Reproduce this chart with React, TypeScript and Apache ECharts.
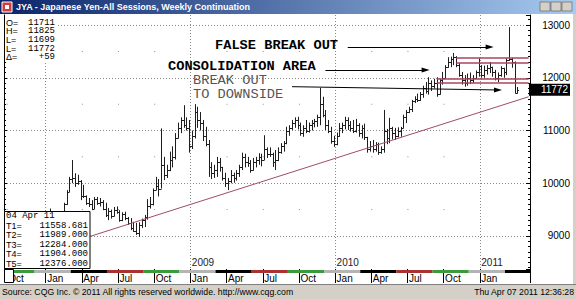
import React, { useEffect, useRef } from 'react';
import * as echarts from 'echarts';

// ---------- categories ----------
const START_WEEK_UTC = Date.UTC(2007, 8, 24); // Monday 24 Sep 2007
const WEEK_COUNT = 189;
const LAST_LABELLED_WEEK = 180;
const FIRST_YEAR_LABEL_WEEK = 30;
const MONTHS = ['Jan', 'Feb', 'Mar', 'Apr', 'May', 'Jun', 'Jul', 'Aug', 'Sep', 'Oct', 'Nov', 'Dec'];

// ---------- weekly bars [open, high, low, close] ----------
const bars2007 = [
  [8700, 8780, 8640, 8720], [8720, 8730, 8560, 8600], [8600, 8640, 8520, 8560], [8560, 8800, 8550, 8770],
  [8770, 8820, 8660, 8740], [8740, 8780, 8620, 8720], [8720, 9040, 8700, 8990], [8990, 9120, 8940, 9080],
  [9080, 9280, 9050, 9230], [9230, 9250, 8950, 9020], [9020, 9080, 8890, 8960], [8960, 9020, 8830, 8860],
  [8860, 8900, 8770, 8820], [8820, 8960, 8790, 8950], [8950, 9220, 8920, 9180],
];
const bars2008 = [
  [9180, 9300, 9100, 9250], [9250, 9520, 9240, 9400], [9400, 9460, 9250, 9300], [9300, 9440, 9280, 9400],
  [9400, 9440, 9240, 9300], [9300, 9470, 9290, 9450], [9450, 9630, 9450, 9600], [9600, 9870, 9590, 9840],
  [9840, 10120, 9830, 10080], [10080, 10440, 10000, 10100], [10100, 10190, 9930, 10000], [10000, 10160, 9970, 10050],
  [10050, 10060, 9680, 9750], [9750, 9970, 9720, 9760], [9760, 9770, 9590, 9620], [9620, 9720, 9550, 9600],
  [9600, 9680, 9490, 9520], [9520, 9740, 9510, 9700], [9700, 9740, 9590, 9620], [9620, 9720, 9560, 9650],
  [9650, 9680, 9490, 9520], [9520, 9630, 9360, 9400], [9400, 9530, 9300, 9480], [9480, 9500, 9330, 9380],
  [9380, 9550, 9370, 9500], [9500, 9560, 9420, 9450], [9450, 9490, 9270, 9300], [9300, 9450, 9280, 9420],
  [9420, 9460, 9300, 9350], [9350, 9360, 9210, 9240], [9240, 9340, 9110, 9150], [9150, 9270, 9080, 9100],
  [9100, 9250, 9020, 9050], [9050, 9260, 8980, 9200], [9200, 9330, 9150, 9300], [9300, 9400, 9170, 9360],
  [9360, 9700, 9310, 9560], [9560, 9740, 9520, 9600], [9600, 9900, 9580, 9880], [9880, 10120, 9870, 9950],
  [9950, 10080, 9750, 9900], [9900, 11040, 9900, 10350], [10350, 10500, 10060, 10150], [10150, 10350, 10100, 10250],
  [10250, 10600, 10230, 10450], [10450, 10700, 10300, 10500], [10500, 10950, 10450, 10850], [10850, 11150, 10850, 11050],
  [11050, 11250, 10950, 11200], [11200, 11480, 11050, 11100], [11100, 11250, 11000, 11050], [11050, 11200, 10580, 10700],
];
const bars2009 = [
  [10700, 11000, 10650, 10900], [10900, 11500, 10850, 11350], [11350, 11450, 11050, 11200], [11200, 11350, 11000, 11150],
  [11150, 11200, 10800, 10900], [10900, 11070, 10700, 10750], [10750, 10820, 10120, 10300], [10300, 10400, 10080, 10200],
  [10200, 10350, 10100, 10250], [10250, 10500, 10120, 10400], [10400, 10480, 10220, 10300], [10300, 10310, 10050, 10100],
  [10100, 10200, 9930, 10000], [10000, 10100, 9870, 10050], [10050, 10250, 10000, 10150], [10150, 10200, 10010, 10100],
  [10100, 10250, 10050, 10200], [10200, 10350, 10120, 10300], [10300, 10580, 10250, 10500], [10500, 10560, 10300, 10400],
  [10400, 10500, 10310, 10380], [10380, 10440, 10200, 10250], [10250, 10480, 10240, 10400], [10400, 10500, 10300, 10450],
  [10450, 10570, 10350, 10500], [10500, 10560, 10320, 10450], [10450, 10910, 10440, 10650], [10650, 10680, 10480, 10550],
  [10550, 10680, 10500, 10560], [10560, 10580, 10310, 10400], [10400, 10630, 10250, 10450], [10450, 10680, 10420, 10600],
  [10600, 10760, 10560, 10700], [10700, 10800, 10600, 10760], [10760, 11070, 10740, 11000], [11000, 11100, 10900, 11050],
  [11050, 11200, 11010, 11150], [11150, 11250, 11050, 11200], [11200, 11260, 11020, 11100], [11100, 11150, 10900, 10950],
  [10950, 11100, 10880, 11050], [11050, 11200, 10950, 11000], [11000, 11150, 10960, 11100], [11100, 11200, 11000, 11150],
  [11150, 11220, 11060, 11180], [11180, 11300, 11070, 11250], [11250, 11810, 11100, 11500], [11500, 11640, 11250, 11300],
  [11300, 11390, 11010, 11100], [11100, 11200, 10950, 11000], [11000, 11070, 10750, 10800], [10800, 10900, 10690, 10750],
];
const bars2010 = [
  [10750, 10960, 10720, 10900], [10900, 11140, 10880, 11050], [11050, 11150, 10950, 11100], [11100, 11260, 11020, 11200],
  [11200, 11250, 11010, 11100], [11100, 11180, 10980, 11050], [11050, 11200, 10950, 11000], [11000, 11220, 10960, 11100],
  [11100, 11140, 10880, 10950], [10950, 11100, 10850, 11050], [11050, 11130, 10820, 10870], [10870, 10880, 10580, 10650],
  [10650, 10800, 10600, 10700], [10700, 10820, 10580, 10650], [10650, 10780, 10600, 10750], [10750, 10770, 10540, 10600],
  [10600, 10700, 10560, 10650], [10650, 11390, 10580, 11000], [11000, 11030, 10740, 10850], [10850, 11240, 10760, 11050],
  [11050, 11070, 10830, 10950], [10950, 11050, 10820, 10900], [10900, 11060, 10870, 11000], [11000, 11070, 10880, 11050],
  [11050, 11300, 11040, 11250], [11250, 11390, 11140, 11350], [11350, 11450, 11330, 11400], [11400, 11580, 11350, 11550],
  [11550, 11650, 11520, 11600], [11600, 11700, 11540, 11580], [11580, 11730, 11560, 11700], [11700, 11850, 11620, 11800],
  [11800, 11920, 11700, 11750], [11750, 12010, 11680, 11900], [11900, 11950, 11750, 11850], [11850, 11980, 11800, 11900],
  [11900, 12010, 11640, 11700], [11700, 11980, 11680, 11950], [11950, 12110, 11870, 12000], [12000, 12240, 11990, 12200],
  [12200, 12390, 12190, 12300], [12300, 12400, 12200, 12350], [12350, 12470, 12240, 12400], [12400, 12410, 12200, 12250],
  [12250, 12280, 12020, 12050], [12050, 12110, 11870, 11950], [11950, 12050, 11830, 11900], [11900, 12080, 11850, 12000],
  [12000, 12100, 11880, 11950], [11950, 12050, 11900, 11990], [11990, 12140, 11980, 12100], [12100, 12370, 12020, 12220],
];
const bars2011 = [
  [12220, 12240, 12000, 12050], [12050, 12230, 12000, 12150], [12150, 12240, 12060, 12180], [12180, 12300, 12090, 12200],
  [12200, 12210, 12020, 12100], [12100, 12150, 11950, 12000], [12000, 12100, 11920, 12050], [12050, 12220, 12020, 12180],
  [12180, 12190, 12000, 12100], [12100, 12370, 12050, 12330], [12330, 12960, 12320, 12360], [12360, 12380, 12190, 12300],
  [12300, 12310, 11700, 11713], [11711, 11825, 11699, 11772],
];

// ---------- axis / annotation values ----------
const Y_MIN = 8374;
const Y_MAX = 13190;
const LAST_CLOSE = 11772;
const infoLabels = ['O=', 'H=', 'L=', 'L=', '\u0394='];
const infoValues = ['11711', '11825', '11699', '11772', '+59'];
const studyDate = '04 Apr 11';
const studyLabels = ['T1=', 'T2=', 'T3=', 'T4=', 'T5='];
const studyValues = ['11558.681', '11989.000', '12284.000', '11904.000', '12376.000'];
const trendLine = [[30, 8985], [188, 11640]];
const consolidationLines = [[162, 12376], [162, 12284], [155, 11989], [155, 11904]];
const falseBreakArrow = [[123, 12583], [174, 12583]];
const consolidationArrow = [[115, 12147], [151, 12147]];
const breakoutArrow = [[103, 11831], [177, 11768]];
const contractRolls = [11, 24, 37, 50, 63, 76, 89, 102, 115, 128, 141, 154, 167, 180];
const contractColors = ['#3c9a3c', '#b4b4b4', '#000000', '#a83232']; // Z, H, M, U
const halfLevels = [9500, 10500, 11500, 12500];

const weeks: string[] = [];
for (let i = 0; i < WEEK_COUNT; i++) {
  weeks.push(new Date(START_WEEK_UTC + i * 7 * 86400000).toISOString().slice(0, 10));
}
const monthOf = (s: string) => +s.slice(5, 7) - 1;
const dayOf = (s: string) => +s.slice(8, 10);
const isQuarterStart = (i: number, s: string) => i <= LAST_LABELLED_WEEK && monthOf(s) % 3 === 0 && dayOf(s) <= 7;
const isYearStart = (_i: number, s: string) => monthOf(s) === 0 && dayOf(s) <= 7;
const isYearLabel = (i: number, s: string) => i >= FIRST_YEAR_LABEL_WEEK && isYearStart(i, s);

const allBars = [...bars2007, ...bars2008, ...bars2009, ...bars2010, ...bars2011];
const ohlcData = allBars.map((b, i) => [i, b[0], b[1], b[2], b[3]]);

const segStarts = [0, ...contractRolls];
const segData = segStarts.map((s, i) => [s, i < contractRolls.length ? contractRolls[i] : WEEK_COUNT, i % 4, Y_MIN]);

const dotData: number[][] = [];
weeks.forEach((w, i) => {
  if (isQuarterStart(i, w) && !isYearStart(i, w)) halfLevels.forEach((lv) => dotData.push([i, lv]));
});

const mono = 'Liberation Mono';
const sans = 'Liberation Sans';

function buildOption(): any {
  const lineItem = (pts: number[][], color: string, width: number, arrow: boolean) => [
    { coord: pts[0], symbol: 'none', lineStyle: { color, width, type: 'solid' } },
    { coord: pts[1], symbol: arrow ? 'triangle' : 'none', symbolSize: [5, 8], itemStyle: { color } },
  ];
  const maroon = '#a8445e';
  const markData = [
    lineItem(trendLine, '#a04c66', 1, false),
    ...consolidationLines.map(([k, v]) => lineItem([[k, v], [WEEK_COUNT - 1, v]], maroon, 1.6, false)),
    lineItem(falseBreakArrow, '#000', 1, true),
    lineItem(consolidationArrow, '#000', 1, true),
    lineItem(breakoutArrow, '#000', 1, true),
  ];

  const txt = (x: number, y: number, text: string, font: string, fill = '#000', align = 'left') => ({
    type: 'text', z: 60, silent: true,
    style: { x, y, text, font, fill, textAlign: align, textVerticalAlign: 'middle' },
  });
  // annotation text, stretched horizontally to the wide letter pitch of the original
  const note = (x: number, y: number, text: string, font: string, fill = '#000') => ({
    type: 'text', z: 60, silent: true, x, y, scaleX: 1.14, scaleY: 1,
    style: { x: 0, y: 0, text, font, fill, textAlign: 'left', textVerticalAlign: 'middle' },
  });

  const graphics: any[] = [
    // title bar
    { type: 'rect', z: 50, shape: { x: 0, y: 0, width: 576, height: 14 },
      style: { fill: new echarts.graphic.LinearGradient(0, 0, 1, 0, [{ offset: 0, color: '#0a246a' }, { offset: 1, color: '#a6caf0' }]) } },
    { type: 'rect', z: 51, shape: { x: 2, y: 2, width: 10, height: 10 }, style: { fill: '#d23c3c', stroke: '#ffffff', lineWidth: 1 } },
    { type: 'rect', z: 52, shape: { x: 5, y: 5, width: 4, height: 4 }, style: { fill: '#ffffff' } },
    txt(16, 7, 'JYA - Japanese Yen-All Sessions, Weekly Continuation', `bold 9px ${sans}`, '#ffffff'),
    ...[540, 551, 562].map((x) => ({ type: 'rect', z: 51, shape: { x, y: 2, width: 10, height: 9 },
      style: { fill: '#d4d0c8', stroke: '#404040', lineWidth: 0.5 } })),
    // right window border
    { type: 'rect', z: 50, shape: { x: 573, y: 14, width: 3, height: 271 }, style: { fill: '#d4d0c8' } },
    // footer
    { type: 'rect', z: 50, shape: { x: 0, y: 284, width: 576, height: 15 }, style: { fill: '#d4d0c8' } },
    { type: 'line', z: 51, shape: { x1: 0, y1: 284.5, x2: 576, y2: 284.5 }, style: { stroke: '#808080', lineWidth: 1 } },
    txt(2, 292, 'Source: CQG Inc. \u00a9 2011 All rights reserved worldwide. http://www.cqg.com', `8.7px ${sans}`),
    txt(574, 292, 'Thu Apr 07 2011 12:36:28', `8.7px ${sans}`, '#000', 'right'),
    // top-left info
    { type: 'rect', z: 50, shape: { x: 5, y: 15, width: 53, height: 47 }, style: { fill: '#ffffff' } },
    ...infoLabels.map((l, i) => txt(6, 22.5 + i * 8.7, l, `9px ${sans}`)),
    ...infoValues.map((v, i) => txt(55, 22.5 + i * 8.7, v, `9px ${mono}`, '#000', 'right')),
    // bottom-left study box
    { type: 'rect', z: 50, shape: { x: 4.5, y: 211.5, width: 85.5, height: 57 }, style: { fill: '#ffffff', stroke: '#000', lineWidth: 1 } },
    txt(6, 216, studyDate, `9px ${mono}`),
    ...studyLabels.map((l, i) => txt(6, 225.5 + i * 9.55, l, `9px ${sans}`)),
    ...studyValues.map((v, i) => txt(88, 225.5 + i * 9.55, v, `9px ${mono}`, '#000', 'right')),
    // small corner box
    { type: 'rect', z: 50, shape: { x: 4.5, y: 269.5, width: 9, height: 13 }, style: { fill: '#ffffff', stroke: '#000', lineWidth: 1 } },
    // annotations
    note(215, 46, 'FALSE BREAK OUT', `bold 12px ${mono}`),
    note(168, 66.7, 'CONSOLIDATION AREA', `bold 12px ${mono}`),
    note(193, 80.6, 'BREAK OUT', `12px ${mono}`, '#555'),
    note(193, 94.5, 'TO DOWNSIDE', `12px ${mono}`, '#555'),
  ];

  const yBase = {
    type: 'value', min: Y_MIN, max: Y_MAX, minInterval: 1000, maxInterval: 1000, splitNumber: 5,
  };

  return {
    animation: false,
    backgroundColor: '#ffffff',
    grid: { left: 4, right: 46, top: 15, bottom: 30, containLabel: false, outerBoundsMode: 'none' },
    xAxis: [
      {
        type: 'category', data: weeks, boundaryGap: true, position: 'bottom',
        axisLine: { show: false },
        axisTick: { show: true, interval: isQuarterStart, length: 14, lineStyle: { color: '#000', width: 1 } },
        axisLabel: {
          interval: isQuarterStart, formatter: (v: string) => MONTHS[monthOf(v)], align: 'left', margin: 4,
          fontSize: 10, fontFamily: sans, color: '#000',
        },
        splitLine: { show: false },
      },
      {
        type: 'category', data: weeks, boundaryGap: true, position: 'bottom',
        axisLine: { show: false }, axisTick: { show: false },
        axisLabel: {
          inside: true, interval: isYearLabel, formatter: (v: string) => v.slice(0, 4), align: 'left', margin: 2,
          fontSize: 10, fontFamily: sans, color: '#222',
        },
        splitLine: { show: true, interval: isYearStart, lineStyle: { color: '#888', width: 1, type: [1, 2] } },
      },
    ],
    yAxis: [
      {
        ...yBase, position: 'right',
        axisLine: { show: true, lineStyle: { color: '#000', width: 1 } },
        axisTick: { show: true, inside: true, length: 4, lineStyle: { color: '#000' } },
        minorTick: { show: true, splitNumber: 10, length: 2, lineStyle: { color: '#000' } },
        axisLabel: {
          formatter: (v: number) => (v % 1000 === 0 ? String(v) : ''), align: 'right', margin: 40,
          fontSize: 10, fontFamily: sans, color: '#000', showMinLabel: false, showMaxLabel: false,
        },
        splitLine: { show: true, showMinLine: false, showMaxLine: false, lineStyle: { color: '#888', width: 1, type: [1, 2] } },
      },
      {
        ...yBase, position: 'left',
        axisLine: { show: true, lineStyle: { color: '#000', width: 1 } },
        axisTick: { show: true, inside: true, length: 3, lineStyle: { color: '#000' } },
        minorTick: { show: true, splitNumber: 10, length: 2, lineStyle: { color: '#000' } },
        axisLabel: { show: false }, splitLine: { show: false },
      },
      {
        ...yBase, position: 'right',
        axisLine: { show: false }, axisTick: { show: false }, splitLine: { show: false },
        axisLabel: {
          customValues: [LAST_CLOSE], formatter: (v: number) => String(v), align: 'right', margin: 40,
          fontSize: 10, fontFamily: sans, color: '#ffffff', backgroundColor: '#000', padding: [1, 2, 1, 12],
        },
      },
    ],
    graphic: { elements: graphics },
    series: [
      {
        type: 'custom', name: 'JYA', xAxisIndex: 0, yAxisIndex: 0, clip: true, z: 3,
        dimensions: ['week', 'open', 'high', 'low', 'close'],
        encode: { x: 0, y: [1, 2, 3, 4] },
        data: ohlcData,
        renderItem: (_p: any, api: any) => {
          const k = api.value(0);
          const pO = api.coord([k, api.value(1)]);
          const pH = api.coord([k, api.value(2)]);
          const pL = api.coord([k, api.value(3)]);
          const pC = api.coord([k, api.value(4)]);
          const x = Math.round(pH[0]) + 0.5;
          const st = { stroke: '#1e1e1e', lineWidth: 1 };
          const yo = Math.round(pO[1]) + 0.5;
          const yc = Math.round(pC[1]) + 0.5;
          return {
            type: 'group',
            children: [
              { type: 'line', shape: { x1: x, y1: pH[1], x2: x, y2: pL[1] }, style: st },
              { type: 'line', shape: { x1: x - 1.5, y1: yo, x2: x, y2: yo }, style: st },
              { type: 'line', shape: { x1: x, y1: yc, x2: x + 1.5, y2: yc }, style: st },
            ],
          };
        },
        markLine: {
          silent: true, animation: false, symbol: ['none', 'none'],
          label: { show: false }, emphasis: { disabled: true },
          lineStyle: { type: 'solid' },
          data: markData,
        },
      },
      {
        type: 'custom', name: 'contracts', xAxisIndex: 0, yAxisIndex: 0, clip: false, silent: true, z: 4,
        dimensions: ['start', 'end', 'contract', 'base'],
        encode: { x: [0, 1], y: 3 },
        data: segData,
        renderItem: (_p: any, api: any) => {
          const bw = api.size([1, 0])[0];
          const p1 = api.coord([api.value(0), api.value(3)]);
          const p2 = api.coord([api.value(1) - 1, api.value(3)]);
          const x1 = p1[0] - bw / 2;
          const x2 = p2[0] + bw / 2;
          return {
            type: 'rect', shape: { x: x1, y: p1[1] + 1, width: x2 - x1, height: 3 },
            style: { fill: contractColors[api.value(2)] },
          };
        },
      },
      {
        type: 'scatter', name: 'gridDots', xAxisIndex: 0, yAxisIndex: 0, silent: true, z: 1,
        symbol: 'rect', symbolSize: [1, 1], symbolOffset: [-1, 0],
        itemStyle: { color: '#777' }, data: dotData,
      },
    ],
  };
}

export default function App() {
  const ref = useRef<HTMLDivElement>(null);
  useEffect(() => {
    if (!ref.current) return;
    const chart = echarts.init(ref.current, undefined, { renderer: 'svg' });
    chart.setOption(buildOption());
    return () => chart.dispose();
  }, []);
  return <div ref={ref} style={{ position: 'fixed', left: 0, top: 0, width: 576, height: 299, background: '#fff' }} />;
}
